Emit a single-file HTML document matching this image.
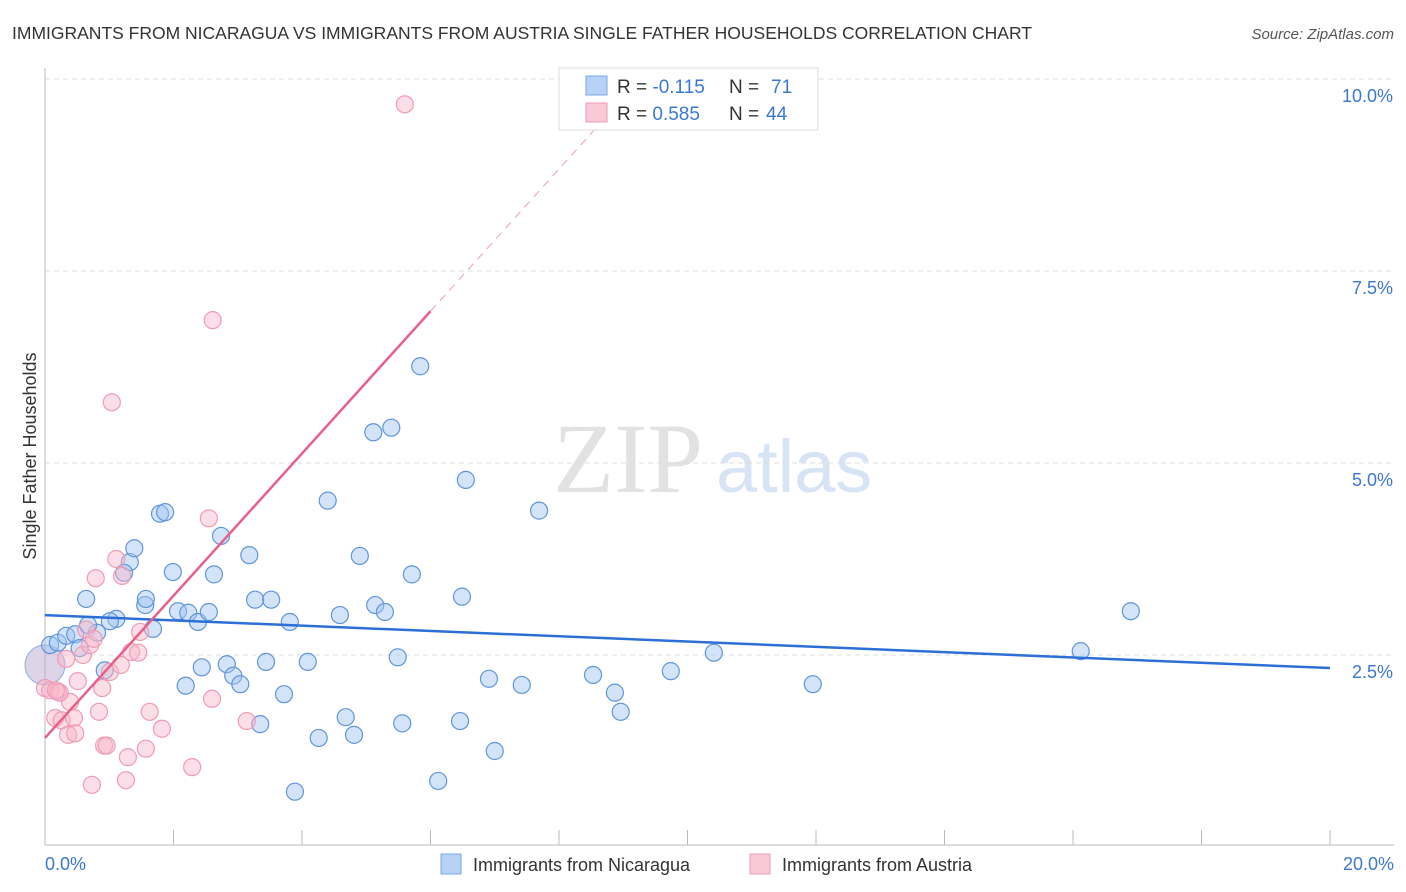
<!DOCTYPE html>
<html><head><meta charset="utf-8"><style>
body{margin:0;background:#fff;font-family:"Liberation Sans",sans-serif}
svg{display:block}
</style></head><body>
<svg id="chart" width="1406" height="892" xmlns="http://www.w3.org/2000/svg">
<text x="12" y="39" font-size="17.5" fill="#333">IMMIGRANTS FROM NICARAGUA VS IMMIGRANTS FROM AUSTRIA SINGLE FATHER HOUSEHOLDS CORRELATION CHART</text>
<text x="1394" y="39" font-size="15" fill="#555" font-style="italic" text-anchor="end">Source: ZipAtlas.com</text>
<g>
<text x="553" y="492" font-family="Liberation Serif,serif" font-size="100" fill="#e2e2e2">ZIP</text>
<text x="716" y="492" font-size="74" fill="#d6e4f5">atlas</text>
</g>
<g id="grid"></g>
<g id="axes"></g>
<g id="pts"></g>
<g id="trend"></g>
<text x="36" y="456" font-size="18" fill="#333" text-anchor="middle" transform="rotate(-90 36 456)">Single Father Households</text>
<g>
<rect x="559" y="68" width="259" height="62" fill="#fff" stroke="#ddd"/>
<rect x="586" y="76" width="21" height="19" fill="#b8d2f5" stroke="#7aa8e8"/>
<rect x="586" y="103" width="21" height="19" fill="#f9c9d7" stroke="#ef9bb5"/>
<text x="617" y="93" font-size="19" fill="#333">R = <tspan fill="#3a78d4">-0.115</tspan><tspan x="729">N = </tspan><tspan x="771" fill="#3a78d4">71</tspan></text>
<text x="617" y="120" font-size="19" fill="#333">R = <tspan fill="#3a78d4">0.585</tspan><tspan x="729">N = </tspan><tspan x="766" fill="#3a78d4">44</tspan></text>
</g>
<g>
<rect x="441" y="854" width="20" height="20" fill="#b8d2f5" stroke="#7aa8e8"/>
<text x="473" y="871" font-size="18" fill="#333">Immigrants from Nicaragua</text>
<rect x="750" y="854" width="20" height="20" fill="#f9c9d7" stroke="#ef9bb5"/>
<text x="782" y="871" font-size="18" fill="#333">Immigrants from Austria</text>
</g>
</svg>
<script>
const yTicks=[2.5,5.0,7.5,10.0];
const yTickLabels=["2.5%","5.0%","7.5%","10.0%"];
const xTickLabels=["0.0%","20.0%"];
const nicX=[0.08,0.20,0.33,0.47,0.81,0.67,0.54,0.93,0.64,1.11,1.01,1.32,1.39,1.23,1.56,1.57,1.68,1.79,1.87,1.99,2.07,2.23,2.38,2.55,2.19,2.44,2.63,2.74,2.83,2.93,3.04,3.18,3.27,3.52,3.44,3.72,3.81,3.35,3.89,4.09,4.26,4.40,4.59,4.68,4.81,4.90,5.14,5.29,5.11,5.39,5.49,5.56,5.71,5.84,6.12,6.46,6.55,6.49,6.91,7.00,7.42,7.69,8.53,8.87,8.96,9.74,10.41,11.95,16.12,16.90];
const nicY=[2.63,2.66,2.75,2.77,2.79,2.89,2.59,2.30,3.23,2.97,2.94,3.71,3.89,3.57,3.15,3.23,2.84,4.34,4.36,3.58,3.07,3.05,2.93,3.06,2.10,2.34,3.55,4.05,2.38,2.23,2.12,3.80,3.22,3.22,2.41,1.99,2.93,1.60,0.72,2.41,1.42,4.51,3.02,1.69,1.46,3.79,3.15,3.06,5.40,5.46,2.47,1.61,3.55,6.26,0.86,1.64,4.78,3.26,2.19,1.25,2.11,4.38,2.24,2.01,1.76,2.29,2.53,2.12,2.55,3.07];
const ausX=[0.00,0.08,0.16,0.20,0.26,0.33,0.39,0.45,0.36,0.47,0.51,0.59,0.64,0.70,0.73,0.79,0.84,0.89,0.92,0.96,1.01,1.04,1.11,1.18,1.20,1.26,1.29,1.34,1.45,1.48,1.57,1.63,1.82,2.29,2.55,2.60,2.61,3.14,5.60,0.76,0.23,0.17];
const ausY=[2.07,2.04,1.68,2.02,1.65,2.45,1.89,1.68,1.46,1.48,2.16,2.50,2.83,2.63,0.81,3.50,1.76,2.07,1.32,1.32,2.28,5.79,3.75,2.37,3.53,0.87,1.17,2.54,2.53,2.80,1.28,1.76,1.54,1.04,4.28,1.93,6.86,1.64,9.67,2.71,2.01,2.04];
const nicTrend=[3.02,2.33];
const ausTrend=[1.42,0.926];
const X=v=>45+v/20*1285, Y=v=>847-v*76.8;
const NS="http://www.w3.org/2000/svg";
function mk(tag,attrs,parent){const e=document.createElementNS(NS,tag);for(const k in attrs)e.setAttribute(k,attrs[k]);document.getElementById(parent).appendChild(e);return e;}
yTicks.forEach((t,i)=>{
 const l=mk('line',{x1:45,x2:1394,y1:Y(t),y2:Y(t),stroke:'#ddd','stroke-dasharray':'5,4'},'grid');
 
 
 const tx=mk('text',{x:1393,y:Y(t)+23,'font-size':18,fill:'#3a78d4','text-anchor':'end'},'grid');
 tx.textContent=yTickLabels[i];
 
 
});
let a=mk('line',{x1:45,x2:45,y1:68,y2:845,stroke:'#bbb'},'axes');


a=mk('line',{x1:45,x2:1394,y1:845,y2:845,stroke:'#bbb'},'axes');


for(let i=0;i<=10;i++){
 const t=mk('line',{x1:X(i*2),x2:X(i*2),y1:830,y2:845,stroke:'#bbb'},'axes');
 
 
}
[[0,'start',45],[20,'end',1394]].forEach((d,i)=>{
 const t=mk('text',{x:d[2],y:870,'font-size':18,fill:'#3a78d4','text-anchor':d[1]},'axes');
 t.textContent=xTickLabels[i];
 
 
});
let big=mk('circle',{cx:X(0),cy:Y(2.37),r:20,fill:'rgba(190,170,210,0.5)',stroke:'#8aaee0'},'pts');


nicX.forEach((x,i)=>{
 const c=mk('circle',{cx:X(x),cy:Y(nicY[i]),r:8.5,fill:'rgba(160,196,240,0.45)',stroke:'#5f95dd','stroke-width':1.2},'pts');
 
 
});
ausX.forEach((x,i)=>{
 const c=mk('circle',{cx:X(x),cy:Y(ausY[i]),r:8.5,fill:'rgba(248,182,202,0.45)',stroke:'#ef9bb5','stroke-width':1.2},'pts');
 
 
});
let l=mk('line',{x1:X(0),y1:Y(nicTrend[0]),x2:X(20),y2:Y(nicTrend[1]),stroke:'#2c6fd6','stroke-width':2.5},'trend');


l=mk('line',{x1:X(0),y1:Y(ausTrend[0]),x2:X(6),y2:Y(ausTrend[0]+ausTrend[1]*6),stroke:'#e8608a','stroke-width':2.5},'trend');


l=mk('line',{x1:X(6),y1:Y(ausTrend[0]+ausTrend[1]*6),x2:X(8.7),y2:Y(ausTrend[0]+ausTrend[1]*8.7),stroke:'#eaa0b8','stroke-width':1,'stroke-dasharray':'8,6'},'trend');


</script>
</body></html>
